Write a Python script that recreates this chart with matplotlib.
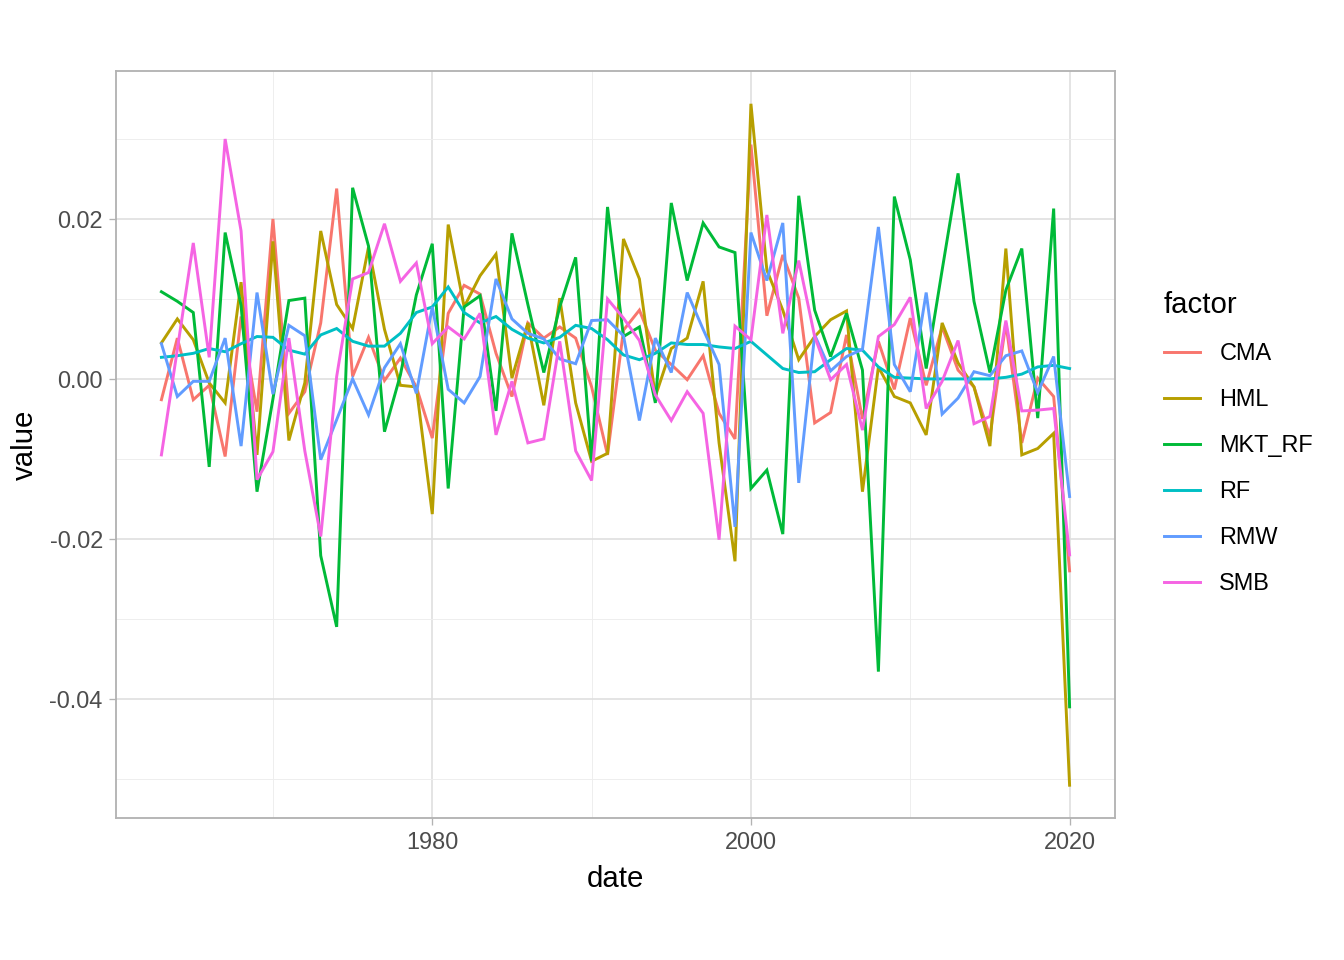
import numpy as np
import matplotlib
matplotlib.use("Agg")
import matplotlib.pyplot as plt
from matplotlib.lines import Line2D

years = np.arange(1963, 2021)

cma = [-0.0026, 0.0051, -0.0026, -0.0008, -0.0097, 0.0078, -0.0041, 0.0200, -0.0043, -0.0016,
       0.0070, 0.0238, 0.0003, 0.0052, -0.0002, 0.0026, -0.0010, -0.0074, 0.0082, 0.0117,
       0.0106, 0.0032, -0.0022, 0.0070, 0.0051, 0.0065, 0.0051, -0.0010, -0.0095, 0.0061,
       0.0086, 0.0036, 0.0018, -0.0001, 0.0029, -0.0043, -0.0075, 0.0293, 0.0079, 0.0155,
       0.0101, -0.0055, -0.0042, 0.0055, -0.0050, 0.0047, -0.0013, 0.0076, -0.0008, 0.0065,
       0.0011, -0.0010, -0.0072, 0.0070, -0.0080, 0.0001, -0.0022, -0.0240]
hml = [0.0045, 0.0075, 0.0049, -0.0005, -0.0030, 0.0121, -0.0095, 0.0172, -0.0077, -0.0005,
       0.0185, 0.0093, 0.0063, 0.0165, 0.0062, -0.0008, -0.0010, -0.0169, 0.0193, 0.0090,
       0.0129, 0.0156, 0.0001, 0.0070, -0.0033, 0.0101, -0.0030, -0.0103, -0.0093, 0.0175,
       0.0125, -0.0022, 0.0038, 0.0051, 0.0122, -0.0080, -0.0228, 0.0344, 0.0136, 0.0086,
       0.0024, 0.0053, 0.0074, 0.0085, -0.0141, 0.0015, -0.0022, -0.0030, -0.0070, 0.0070,
       0.0020, -0.0010, -0.0084, 0.0163, -0.0095, -0.0087, -0.0068, -0.0508]
mkt_rf = [0.0109, 0.0097, 0.0083, -0.0110, 0.0183, 0.0092, -0.0141, -0.0025, 0.0098, 0.0101,
          -0.0221, -0.0310, 0.0239, 0.0166, -0.0066, 0.0005, 0.0105, 0.0169, -0.0137, 0.0090,
          0.0104, -0.0040, 0.0182, 0.0093, 0.0008, 0.0090, 0.0152, -0.0103, 0.0215, 0.0053,
          0.0065, -0.0030, 0.0220, 0.0123, 0.0195, 0.0165, 0.0158, -0.0137, -0.0114, -0.0194,
          0.0229, 0.0086, 0.0028, 0.0082, 0.0011, -0.0366, 0.0228, 0.0149, 0.0013, 0.0136,
          0.0257, 0.0097, 0.0008, 0.0111, 0.0163, -0.0049, 0.0213, -0.0410]
rf = [0.0027, 0.0029, 0.0032, 0.0038, 0.0034, 0.0044, 0.0053, 0.0052, 0.0036, 0.0031,
      0.0055, 0.0063, 0.0047, 0.0041, 0.0041, 0.0057, 0.0083, 0.0090, 0.0115, 0.0083,
      0.0070, 0.0078, 0.0062, 0.0051, 0.0045, 0.0052, 0.0067, 0.0063, 0.0049, 0.0030,
      0.0024, 0.0032, 0.0045, 0.0043, 0.0043, 0.0040, 0.0038, 0.0047, 0.0030, 0.0013,
      0.0008, 0.0009, 0.0024, 0.0038, 0.0036, 0.0015, 0.0002, 0.0001, 0.0000, 0.0000,
      0.0000, 0.0000, 0.0000, 0.0002, 0.0006, 0.0015, 0.0017, 0.0013]
rmw = [0.0044, -0.0022, -0.0003, -0.0003, 0.0051, -0.0084, 0.0108, -0.0019, 0.0067, 0.0054,
       -0.0101, -0.0051, 0.0000, -0.0045, 0.0014, 0.0044, -0.0018, 0.0090, -0.0013, -0.0030,
       0.0003, 0.0125, 0.0075, 0.0057, 0.0050, 0.0025, 0.0019, 0.0073, 0.0074, 0.0054,
       -0.0052, 0.0051, 0.0008, 0.0108, 0.0062, 0.0018, -0.0185, 0.0183, 0.0123, 0.0195,
       -0.0130, 0.0055, 0.0010, 0.0028, 0.0037, 0.0190, 0.0018, -0.0016, 0.0108, -0.0044,
       -0.0024, 0.0009, 0.0004, 0.0029, 0.0035, -0.0017, 0.0028, -0.0147]
smb = [-0.0095, 0.0037, 0.0170, 0.0027, 0.0300, 0.0185, -0.0126, -0.0091, 0.0051, -0.0090,
       -0.0197, 0.0003, 0.0125, 0.0133, 0.0194, 0.0122, 0.0145, 0.0044, 0.0065, 0.0050,
       0.0082, -0.0070, -0.0003, -0.0080, -0.0075, 0.0047, -0.0090, -0.0127, 0.0100, 0.0076,
       0.0048, -0.0020, -0.0052, -0.0016, -0.0043, -0.0201, 0.0066, 0.0049, 0.0205, 0.0057,
       0.0148, 0.0053, -0.0001, 0.0018, -0.0064, 0.0053, 0.0068, 0.0102, -0.0037, -0.0003,
       0.0048, -0.0056, -0.0047, 0.0073, -0.0040, -0.0039, -0.0037, -0.0220]

factors = ["CMA", "HML", "MKT_RF", "RF", "RMW", "SMB"]
series = [cma, hml, mkt_rf, rf, rmw, smb]
colors = ["#F8766D", "#B79F00", "#00BA38", "#00BFC4", "#619CFF", "#F564E3"]

plt.rcParams["font.family"] = ["Liberation Sans", "DejaVu Sans"]

fig = plt.figure(figsize=(7, 5), dpi=192)
ax = fig.add_axes([116/1344, 1 - 818/960, (1115-116)/1344, (818-71)/960])

for name, vals, c in zip(factors, series, colors):
    ax.plot(years, vals, color=c, lw=1.1, label=name, solid_joinstyle="miter")

ax.set_xlim(1960.15, 2022.85)
ax.set_ylim(-0.0549, 0.0385)
ax.set_xticks([1980, 2000, 2020])
ax.set_xticks([1970, 1990, 2010], minor=True)
ax.set_yticks([-0.04, -0.02, 0.0, 0.02])
ax.set_yticklabels(["-0.04", "-0.02", "0.00", "0.02"])
ax.set_yticks([-0.05, -0.03, -0.01, 0.01, 0.03], minor=True)

ax.grid(which="major", color="#DEDEDE", lw=0.6)
ax.grid(which="minor", color="#EDEDED", lw=0.35)
ax.set_axisbelow(True)
for s in ax.spines.values():
    s.set_color("#B3B3B3")
    s.set_linewidth(0.7)
ax.tick_params(which="major", length=2.75, width=0.5, color="#B3B3B3",
               labelsize=8.8, labelcolor="#4D4D4D", pad=2.2)
ax.tick_params(which="minor", length=0)

ax.set_xlabel("date", fontsize=11, labelpad=4)
ax.set_ylabel("value", fontsize=11, labelpad=4)

handles = [Line2D([], [], color=c, lw=1.1) for c in colors]
leg = fig.legend(handles, factors, loc="upper left",
                 bbox_to_anchor=(1143/1344, 1 - 270/960), frameon=False,
                 title="factor", title_fontsize=11, fontsize=8.8,
                 handlelength=1.55, handletextpad=0.8, labelspacing=0.98,
                 alignment="left")

fig.savefig("out.png", dpi=192)
